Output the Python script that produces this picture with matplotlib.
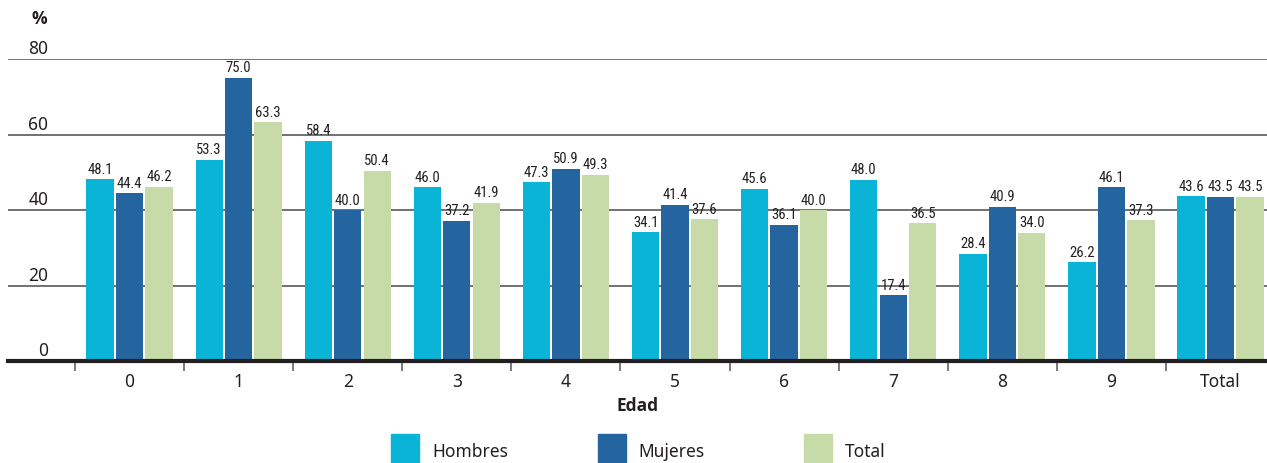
import numpy as np
import matplotlib.pyplot as plt
from matplotlib.patches import Rectangle
from matplotlib import transforms
from matplotlib import font_manager as fm

# data
edades = ["0", "1", "2", "3", "4", "5", "6", "7", "8", "9", "Total"]
hombres = [48.1, 53.3, 58.4, 46.0, 47.3, 34.1, 45.6, 48.0, 28.4, 26.2, 43.6]
mujeres = [44.4, 75.0, 40.0, 37.2, 50.9, 41.4, 36.1, 17.4, 40.9, 46.1, 43.5]
total = [46.2, 63.3, 50.4, 41.9, 49.3, 37.6, 40.0, 36.5, 34.0, 37.3, 43.5]
yticks = [0, 20, 40, 60, 80]

series = [("Hombres", hombres, "#09b4d6"),
          ("Mujeres", mujeres, "#2465a0"),
          ("Total", total, "#c6dba7")]

def have(fam, **kw):
    try:
        return fm.findfont(fm.FontProperties(family=fam, **kw), fallback_to_default=False)
    except Exception:
        return ""

plt.rcParams['font.family'] = ['Noto Sans', 'DejaVu Sans']
# a family that really has a bold face, for "%" and "Edad"
bold_font = 'DejaVu Sans'
for f in ['Noto Sans', 'Open Sans', 'Lato', 'Roboto']:
    if 'bold' in have(f, weight='bold').lower():
        bold_font = f
        break
lab_font = 'DejaVu Sans'
for f in ['Liberation Sans Narrow', 'Roboto Condensed', 'Open Sans Condensed']:
    if have(f):
        lab_font = f
        break
txt_col = "#231f20"

fig = plt.figure(figsize=(12.67, 4.64), dpi=100)
ax = fig.add_axes([8/1267., 102/464., 1259/1267., 302/464.])

x = np.arange(len(edades))
w = 0.25
offs = [-0.27, 0.0, 0.27]
for (name, vals, col), off in zip(series, offs):
    bars = ax.bar(x + off, vals, w, color=col, zorder=3)
    for b, v in zip(bars, vals):
        ax.annotate("%.1f" % v, (b.get_x() + b.get_width()/2, v), xytext=(0, 2.5),
                    textcoords="offset points", ha="center", va="bottom",
                    fontsize=10.5, color=txt_col, family=lab_font,
                    fontstretch="condensed", zorder=4)

ax.set_xlim(-1.114, 10.426)
ax.set_ylim(0, 80)

# gridlines and y labels sitting above the lines
for t in yticks[1:]:
    ax.axhline(t, color="#58595b", lw=1.2, zorder=1)
trans = transforms.blended_transform_factory(ax.transAxes, ax.transData)
for t in yticks:
    ax.text(0.032, t + 0.4, str(t), transform=trans, ha="right", va="bottom",
            fontsize=12.5, color=txt_col)
ax.text(0.031, 88.5, "%", transform=trans, ha="right", va="bottom",
        fontsize=12.5, fontweight="bold", family=bold_font, color=txt_col, clip_on=False)

for s in ["top", "right", "left"]:
    ax.spines[s].set_visible(False)
ax.spines["bottom"].set_linewidth(3)
ax.spines["bottom"].set_color("#231f20")
ax.spines["bottom"].set_zorder(5)
ax.set_yticks([])

ax.set_xticks(x)
ax.set_xticklabels(edades, fontsize=12.5, color=txt_col)
ax.tick_params(axis="x", which="major", length=0, pad=8)
ax.set_xticks(np.arange(len(edades)) - 0.5, minor=True)
ax.tick_params(axis="x", which="minor", length=7, width=1.3, color="#6d6e71", direction="out")
ax.set_xlabel("Edad", fontsize=12.5, fontweight="bold", family=bold_font,
              color=txt_col, labelpad=4)

# legend row
for i, (name, vals, col) in enumerate(series):
    x0 = (391 + 206.5*i) / 1267.
    fig.add_artist(Rectangle((x0, 0.0), 28/1267., 29/464., transform=fig.transFigure,
                             color=col, clip_on=False))
    fig.text(x0 + 41/1267., 12/464., name, fontsize=12.5, color=txt_col,
             ha="left", va="center")

plt.savefig("out.png", dpi=100)
